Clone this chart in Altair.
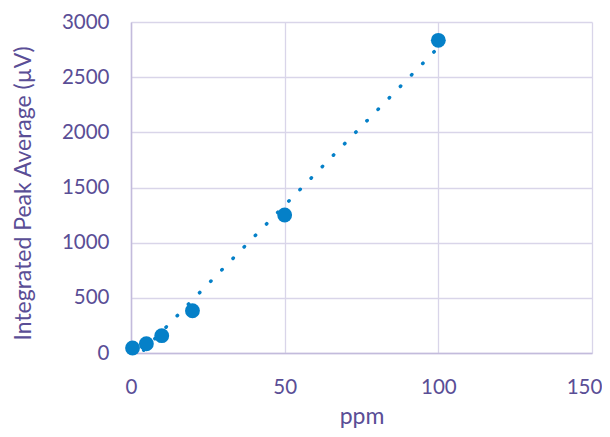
import altair as alt
import pandas as pd

ppm = [0.5, 5, 10, 20, 50, 100]
signal = [45, 84, 157, 383, 1251, 2834]

df = pd.DataFrame({"ppm": ppm, "signal": signal})

TEXT = "#5a4e96"
FONT = "Lato"

x = alt.X("ppm:Q", title="ppm",
          scale=alt.Scale(domain=[0, 150], nice=False, zero=True),
          axis=alt.Axis(values=[0, 50, 100, 150], ticks=False, labelPadding=40,
                        labelBaseline="alphabetic",
                        labelFlush=False, format="d",
                        labelOffset={"condition": {"test": "datum.value == 150", "value": -8}, "value": 0},
                        titleY=70, titleBaseline="alphabetic"))
y = alt.Y("signal:Q", title="Integrated Peak Average (µV)",
          scale=alt.Scale(domain=[0, 3000], nice=False),
          axis=alt.Axis(values=[0, 500, 1000, 1500, 2000, 2500, 3000], ticks=False,
                        labelPadding=22, labelFlush=False, format="d",
                        titleX=-108, titleY=171,
                        titleBaseline="middle", titleAlign="center", titleAngle=-90))

base = alt.Chart(df)

trend = base.transform_regression("ppm", "signal").mark_line(
    color="#0580c8", strokeWidth=3.5, strokeDash=[0.5, 15.5], strokeCap="round", clip=True
).encode(x=x, y=y)

points = base.mark_circle(color="#0580c8", size=220, opacity=1).encode(x=x, y=y)

chart = alt.layer(trend, points).properties(
    width=461, height=331,
    autosize=alt.AutoSizeParams(type="none"),
    padding={"left": 123, "top": 14, "right": 10, "bottom": 76},
    background="white",
).configure_view(stroke=None).configure_axis(
    labelFont=FONT, titleFont=FONT, labelFontSize=20.5, titleFontSize=23,
    labelColor=TEXT, titleColor=TEXT, titleFontWeight="normal",
    gridColor="#d9d5e9", gridWidth=1.3, domainColor="#c3bbdc", domainWidth=1.5,
)

chart.save("out.html", embed_options={"renderer": "svg", "actions": False})
